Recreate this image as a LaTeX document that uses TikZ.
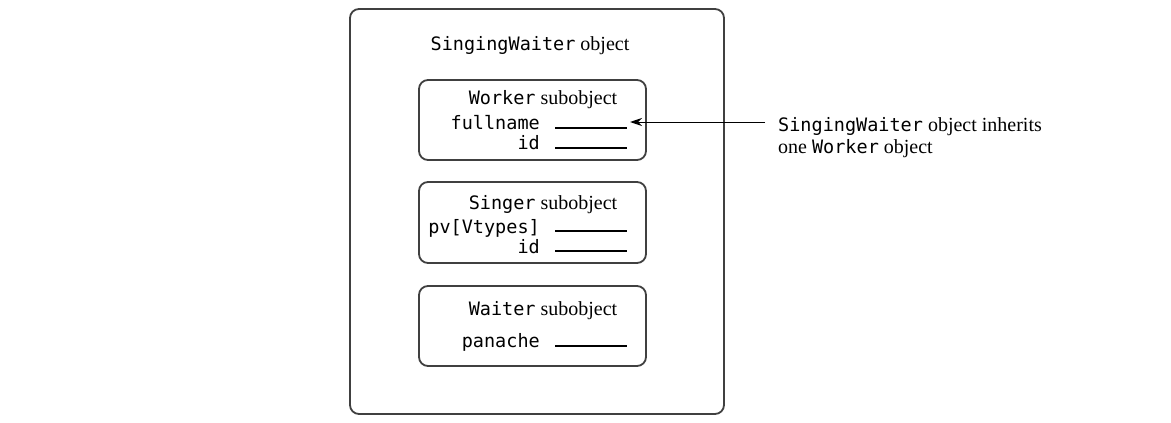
\documentclass[tikz,border=0pt]{standalone}
\usepackage{fontspec}
\setmainfont{Liberation Serif}
\newfontfamily\monof{DejaVu Sans Mono}
\usetikzlibrary{arrows.meta}
\tikzset{
  box/.style={draw=black!75, line width=1.8pt, rounded corners=9pt},
  lbl/.style={inner sep=0pt, font=\fontsize{20}{22}\selectfont},
  fld/.style={inner sep=0pt, anchor=base east, font=\fontsize{18.5}{20}\monof},
  blank/.style={line width=1.4pt},
  arr/.style={line width=1pt, -{Stealth[length=12pt,width=8pt]}}
}
\begin{document}
\begin{tikzpicture}[x=1pt,y=-1pt]
\useasboundingbox (0,0) rectangle (1171,423);
\draw[box] (350,9) rectangle (724,414);
\node[lbl, anchor=base] (title) at (530,50) {{\fontsize{18.5}{20}\monof SingingWaiter} object};

% Worker
\draw[box] (419,80) rectangle (646,160);
\node[lbl, anchor=base] (wt) at (543,104) {{\fontsize{18.5}{20}\monof Worker} subobject};
\node[fld] (fn) at (540,129) {fullname};
\node[fld] (wid) at (540,149) {id};
\draw[blank] (555,128) -- (627,128);
\draw[blank] (555,148) -- (627,148);
\coordinate (aend) at (630,122);

% Singer
\draw[box] (419,182) rectangle (646,263);
\node[lbl, anchor=base] (st) at (543,209) {{\fontsize{18.5}{20}\monof Singer} subobject};
\node[fld] (pv) at (540,233) {pv[Vtypes]};
\node[fld] (sid) at (540,253) {id};
\draw[blank] (555,231) -- (627,231);
\draw[blank] (555,251) -- (627,251);

% Waiter
\draw[box] (419,286) rectangle (646,366);
\node[lbl, anchor=base] (wat) at (543,315) {{\fontsize{18.5}{20}\monof Waiter} subobject};
\node[fld] (pa) at (540,347) {panache};
\draw[blank] (555,346) -- (627,346);

% annotation
\node[lbl, anchor=north west, align=left] (ann) at (778,117)
  {{\fontsize{18.5}{20}\monof SingingWaiter} object inherits\\[0pt]one {\fontsize{18.5}{20}\monof Worker} object};
\coordinate (astart) at (765,122);
\draw[arr] (astart) -- (aend);
\end{tikzpicture}
\end{document}
